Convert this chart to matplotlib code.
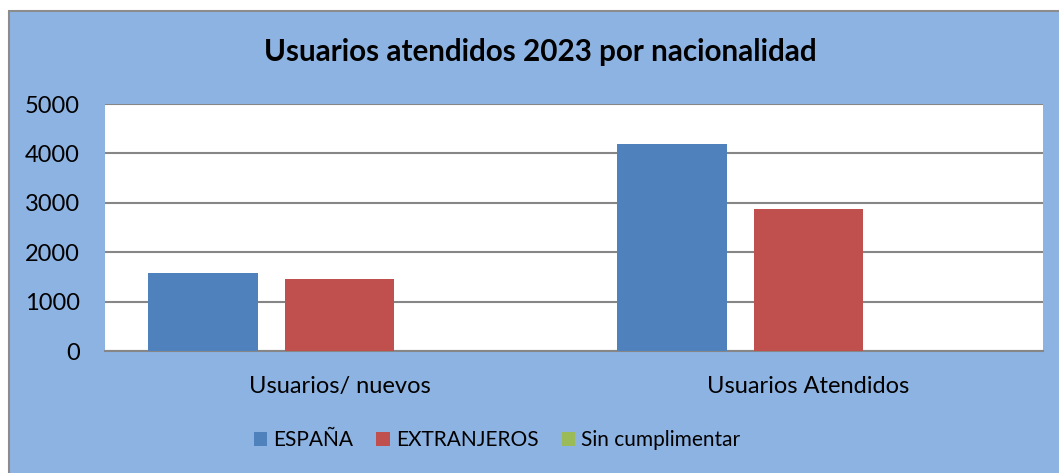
import matplotlib.pyplot as plt
import matplotlib.patches as mpatches
import numpy as np

categories = ['Usuarios/ nuevos', 'Usuarios Atendidos']
series_names = ['ESPAÑA', 'EXTRANJEROS', 'Sin cumplimentar']
espana = [1580, 4200]
extranjeros = [1460, 2870]
sin_cumplimentar = [0, 0]
yticks = [0, 1000, 2000, 3000, 4000, 5000]

colors = ['#4F81BD', '#C0504D', '#9BBB59']
bg = '#8DB3E2'

plt.rcParams['font.family'] = ['Lato', 'DejaVu Sans']

W, H = 1059, 473
fig = plt.figure(figsize=(W / 100, H / 100), dpi=100)
fig.patch.set_facecolor('white')

# chart area background, grey frame visible only on top/left
fig.patches.append(mpatches.Rectangle((9 / W, -0.1), 1.2, (H - 11) / H + 0.1, transform=fig.transFigure,
                                      facecolor=bg, edgecolor='#8C8C8C', linewidth=1.5, zorder=-10))

ax = fig.add_axes([105 / W, (H - 351) / H, 938 / W, (351 - 104) / H])
ax.set_facecolor('white')

x = np.arange(len(categories))
step = 0.292
width = 0.2345
for i, (vals, name) in enumerate(zip([espana, extranjeros, sin_cumplimentar], series_names)):
    ax.bar(x + (i - 1) * step, vals, width=width, color=colors[i], label=name, zorder=3)

ax.set_xlim(-0.5, 1.5)
ax.set_ylim(0, 5000)
ax.set_yticks(yticks)
ax.yaxis.grid(True, color='#868686', linewidth=1.5, zorder=1)
ax.set_xticks(x)
ax.set_xticklabels(categories)
ax.tick_params(axis='both', length=0, labelsize=17, colors='black')
ax.tick_params(axis='y', pad=18)
ax.tick_params(axis='x', pad=18)
for s in ['left', 'right', 'top']:
    ax.spines[s].set_visible(False)
ax.spines['bottom'].set_color('#868686')
ax.spines['bottom'].set_linewidth(1.5)

fig.text(540 / W, 1 - 52 / H, 'Usuarios atendidos 2023 por nacionalidad', ha='center', va='center',
         fontsize=21.3, fontweight='bold')

handles, labels = ax.get_legend_handles_labels()
fig.legend(handles, labels, loc='center', bbox_to_anchor=(497 / W, 1 - 440 / H), ncol=3,
           frameon=False, fontsize=15, handlelength=0.65, handleheight=0.65,
           handletextpad=0.3, columnspacing=1.1)

fig.savefig('out.png', dpi=100, facecolor=fig.get_facecolor())
